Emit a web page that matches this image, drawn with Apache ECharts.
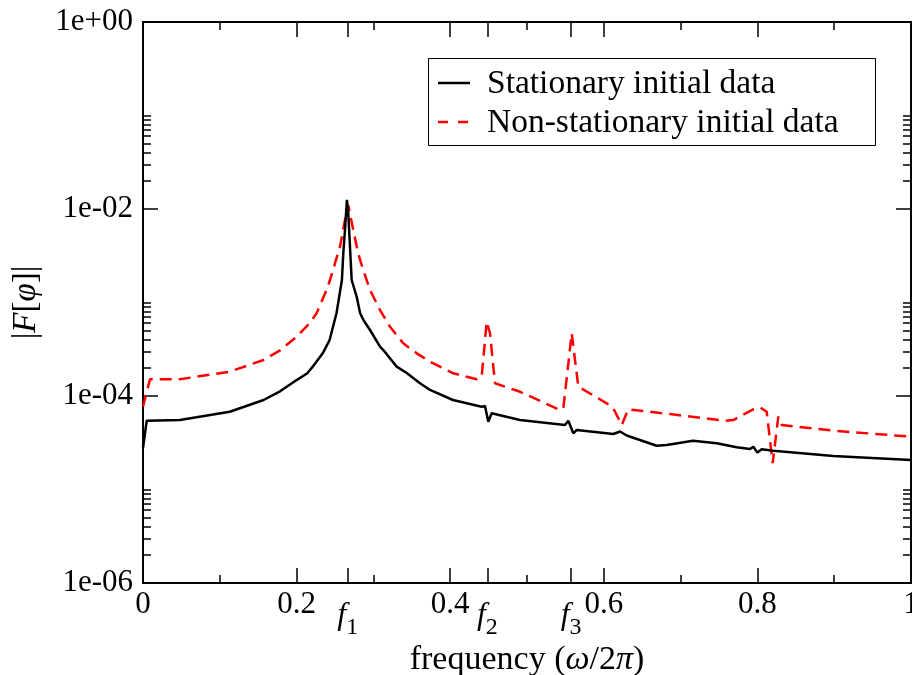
<!DOCTYPE html>
<html><head><meta charset="utf-8">
<script src="https://cdn.jsdelivr.net/npm/echarts@6/dist/echarts.min.js"></script>
<style>html,body{margin:0;padding:0;background:#fff}#c{width:912px;height:675px}</style>
</head><body><div id="c"></div>
<script>
// ---- data ----
const freqStationary = [0, 0.0048, 0.048, 0.113, 0.157, 0.179, 0.200, 0.214, 0.221, 0.234, 0.243, 0.252, 0.259, 0.2608, 0.263, 0.2655,
  0.2673, 0.2695, 0.2717, 0.2783, 0.2826, 0.287, 0.2956, 0.3086, 0.3129, 0.3303, 0.3434, 0.3607, 0.3737, 0.4036, 0.441, 0.4453, 0.4496, 0.454, 0.4909,
  0.5495, 0.5538, 0.5603, 0.5647, 0.6124, 0.6211, 0.6298, 0.6689, 0.6819, 0.7161, 0.747, 0.773, 0.7904, 0.7947, 0.7999,
  0.8056, 0.8207, 0.8988, 1.0];
const ampStationary = [2.78e-5, 5.44e-5, 5.53e-5, 6.79e-5, 9.06e-5, 1.13e-4, 1.48e-4, 1.75e-4, 2.06e-4, 2.86e-4, 3.97e-4, 7.72e-4, 1.74e-3, 3.36e-3, 5.96e-3, 1.25e-2,
  9.06e-3, 3.95e-3, 1.74e-3, 1.15e-3, 7.72e-4, 6.50e-4, 5.08e-4, 3.37e-4, 3.10e-4, 2.06e-4, 1.76e-4, 1.37e-4, 1.16e-4, 9.06e-5, 7.69e-5, 7.8e-5, 5.31e-5, 6.53e-5, 5.53e-5,
  4.90e-5, 5.44e-5, 3.99e-5, 4.33e-5, 3.92e-5, 4.17e-5, 3.78e-5, 2.94e-5, 2.99e-5, 3.33e-5, 3.12e-5, 2.83e-5, 2.71e-5, 2.87e-5, 2.48e-5,
  2.69e-5, 2.60e-5, 2.28e-5, 2.07e-5];

const freqNonStationary = [0, 0.0091, 0.048, 0.113, 0.157, 0.179, 0.200, 0.217, 0.226, 0.239, 0.2435, 0.25, 0.2565, 0.263, 0.2673, 0.269,
  0.2738, 0.2783, 0.2826, 0.2868, 0.2956, 0.3086, 0.3216, 0.3389, 0.3564, 0.3737, 0.4040, 0.4345, 0.441, 0.4475, 0.4518, 0.4583, 0.4909,
  0.543, 0.5473, 0.5582, 0.5668, 0.6038, 0.6124, 0.6233, 0.6319, 0.6862, 0.7578, 0.7686, 0.7947, 0.8034, 0.8121,
  0.8199, 0.8272, 0.8316, 0.8988, 1.0];
const ampNonStationary = [7.69e-5, 1.51e-4, 1.51e-4, 1.82e-4, 2.43e-4, 3.10e-4, 4.31e-4, 6.0e-4, 7.66e-4, 1.36e-3, 1.74e-3, 2.63e-3, 3.95e-3, 7.63e-3, 1.10e-2, 1.15e-2,
  5.96e-3, 3.95e-3, 2.85e-3, 2.23e-3, 1.36e-3, 8.31e-4, 5.51e-4, 3.66e-4, 2.86e-4, 2.33e-4, 1.75e-4, 1.51e-4, 1.61e-4, 6.24e-4, 4.72e-4, 1.37e-4, 1.11e-4,
  7.08e-5, 7.38e-5, 4.69e-4, 1.26e-4, 8.35e-5, 7.38e-5, 4.90e-5, 7.21e-5, 6.41e-5, 5.44e-5, 5.53e-5, 7.21e-5, 7.57e-5, 6.79e-5,
  1.91e-5, 6.01e-5, 4.90e-5, 4.26e-5, 3.67e-5];

const seriesNames = ['Stationary initial data', 'Non-stationary initial data'];
const xMajorTicks = [0, 0.2, 0.4, 0.6, 0.8, 1];
const yMajorExponents = [-6, -4, -2, 0];
const yMinorMultipliers = [2, 3, 4, 5, 6, 7, 8, 9, 10];
const yMinorDecades = [-6, -4, -2];
const fTickValues = [0.2666, 0.4484, 0.5575];
const fTickLabels = ['1', '2', '3'];

// ---- build ----
const FONT = 'Liberation Serif';
const zip = (xs, ys) => xs.map((x, i) => [x, ys[i]]);
const yMinorTicks = [];
yMinorDecades.forEach(e => yMinorMultipliers.forEach(m => yMinorTicks.push(Math.log10(m) + e)));
const fmtExp = v => { const e = Math.round(v); return '1e' + (e < 0 ? '-' : '+') + String(Math.abs(e)).padStart(2, '0'); };
const nearestIdx = (arr, v) => { let b = 0; arr.forEach((a, i) => { if (Math.abs(a - v) < Math.abs(arr[b] - v)) b = i; }); return b; };

const lineBlack = { color: '#000', width: 2 };
const tickMajor = { show: true, inside: true, length: 15, lineStyle: { color: '#000', width: 1.5 } };
const tickMinor = { show: true, inside: true, length: 8, lineStyle: { color: '#000', width: 1.5 } };
const labelStyle = { fontFamily: FONT, fontSize: 31, color: '#000' };

const xBase = (pos, showLabel) => ({
  type: 'value', min: 0, max: 1, interval: 0.2, position: pos,
  axisLine: { show: true, onZero: false, lineStyle: lineBlack },
  axisTick: tickMajor,
  minorTick: { show: true, splitNumber: 2, length: 8, lineStyle: { color: '#000', width: 1.5 } },
  splitLine: { show: false }, minorSplitLine: { show: false },
  axisLabel: Object.assign({ show: showLabel, margin: 6, formatter: v => String(+v.toFixed(2)) }, labelStyle)
});
const xF = (pos, showLabel) => ({
  type: 'value', min: 0, max: 1, position: pos,
  axisLine: { show: false, onZero: false },
  axisTick: Object.assign({ customValues: fTickValues }, tickMajor),
  splitLine: { show: false },
  axisLabel: {
    show: showLabel, customValues: fTickValues, margin: 17,
    formatter: v => '{f|f}{s|' + fTickLabels[nearestIdx(fTickValues, v)] + '}',
    rich: {
      f: { fontFamily: FONT, fontSize: 32, fontStyle: 'italic', color: '#000', lineHeight: 32 },
      s: { fontFamily: FONT, fontSize: 24, color: '#000', lineHeight: 24, padding: [24, 0, 0, 0] }
    }
  }
});
const yLog = pos => ({
  type: 'log', logBase: 10, min: 1e-6, max: 1, position: pos,
  axisLine: { show: true, onZero: false, lineStyle: lineBlack },
  axisTick: { show: false }, axisLabel: { show: false }, splitLine: { show: false }
});
const yMajor = (pos, showLabel) => ({
  type: 'value', min: -6, max: 0, interval: 2, position: pos,
  axisLine: { show: false, onZero: false }, axisTick: tickMajor, splitLine: { show: false },
  axisLabel: Object.assign({ show: showLabel, margin: 10, formatter: fmtExp }, labelStyle)
});
const yMinor = pos => ({
  type: 'value', min: -6, max: 0, position: pos,
  axisLine: { show: false, onZero: false }, axisTick: Object.assign({ customValues: yMinorTicks }, tickMinor),
  axisLabel: { show: false }, splitLine: { show: false }
});

const xAxes = [xBase('bottom', true), xBase('top', false), xF('bottom', true), xF('top', false)];
xAxes[0].name = 'frequency ({i|ω}/2{i|π})';
xAxes[0].nameLocation = 'middle';
xAxes[0].nameGap = 60;
xAxes[0].nameTextStyle = { fontFamily: FONT, fontSize: 34, color: '#000',
  rich: { i: { fontFamily: FONT, fontSize: 34, fontStyle: 'italic', color: '#000' } } };

const yAxes = [yLog('left'), yMajor('left', true), yMinor('left'), yLog('right'), yMajor('right', false), yMinor('right')];
yAxes[1].name = '|{i|F}[{i|φ}]|';
yAxes[1].nameLocation = 'middle';
yAxes[1].nameGap = 100;
yAxes[1].nameTextStyle = { fontFamily: FONT, fontSize: 33, color: '#000',
  rich: { i: { fontFamily: FONT, fontSize: 33, fontStyle: 'italic', color: '#000' } } };

// legend drawn as graphic (box, two sample lines, two labels)
const LEGEND_FONT = '33.5px "Liberation Serif"';
const legendGraphic = [
  { type: 'rect', shape: { x: 428.5, y: 58.5, width: 447, height: 87 },
    style: { fill: '#fff', stroke: '#000', lineWidth: 1 }, z: 100 },
  { type: 'line', shape: { x1: 438, y1: 83, x2: 470, y2: 83 },
    style: { stroke: '#000', lineWidth: 2.5 }, z: 101 },
  { type: 'line', shape: { x1: 438, y1: 122, x2: 470, y2: 122 },
    style: { stroke: '#ff0000', lineWidth: 2.5, lineDash: [10, 10] }, z: 101 },
  { type: 'text', x: 487, y: 84, style: { text: seriesNames[0], font: LEGEND_FONT, fill: '#000', verticalAlign: 'middle' }, z: 101 },
  { type: 'text', x: 487, y: 123, style: { text: seriesNames[1], font: LEGEND_FONT, fill: '#000', verticalAlign: 'middle' }, z: 101 }
];

const option = {
  animation: false,
  backgroundColor: '#fff',
  grid: { left: 143, right: 1, top: 22, bottom: 92, containLabel: false, outerBoundsMode: 'none' },
  xAxis: xAxes,
  yAxis: yAxes,
  graphic: legendGraphic,
  series: [
    { name: seriesNames[0], type: 'line', xAxisIndex: 0, yAxisIndex: 0, data: zip(freqStationary, ampStationary),
      symbol: 'none', showSymbol: false, lineStyle: { color: '#000', width: 2.5 }, itemStyle: { color: '#000' }, z: 3 },
    { name: seriesNames[1], type: 'line', xAxisIndex: 0, yAxisIndex: 0, data: zip(freqNonStationary, ampNonStationary),
      symbol: 'none', showSymbol: false, lineStyle: { color: '#ff0000', width: 2.5, type: [12, 7] }, itemStyle: { color: '#ff0000' }, z: 2 }
  ]
};
const chart = echarts.init(document.getElementById('c'), null, { renderer: 'canvas' });
chart.setOption(option);
</script></body></html>
